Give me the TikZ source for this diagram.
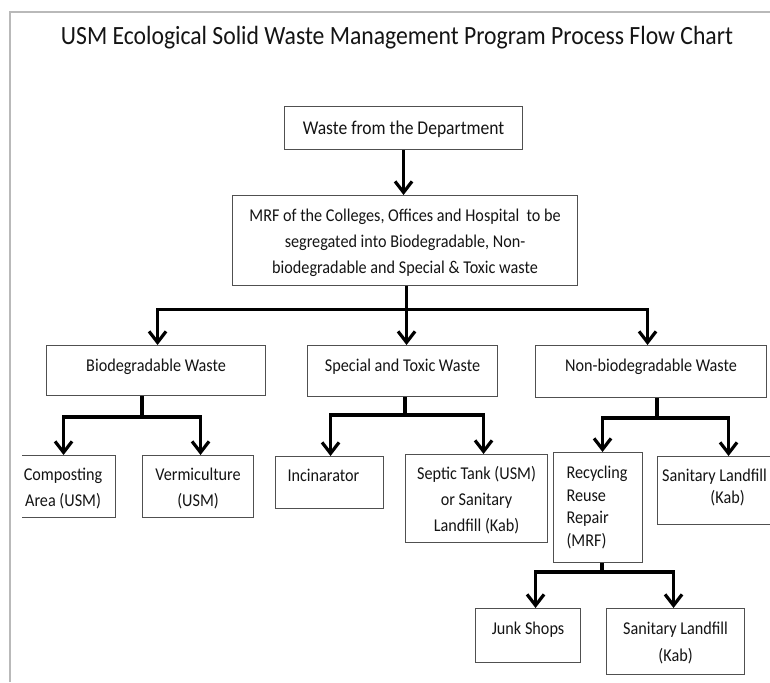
\documentclass[tikz,border=0pt]{standalone}
\usepackage{fontspec}
\setmainfont[FakeStretch=0.9]{Carlito}
\usetikzlibrary{arrows.meta,calc}
\definecolor{txt}{HTML}{141414}
\definecolor{edge}{HTML}{505050}
\newcommand\cbox[2]{\parbox[t]{#1}{\centering #2}}
\newcommand\lbox[3]{\parbox[t]{#1}{\raggedright\leftskip=#2 #3}}
\begin{document}
\begin{tikzpicture}[x=1pt,y=-1pt,
  box/.style={draw=edge, line width=1.1pt, inner sep=0pt, anchor=north west,
    font=\fontsize{18}{26}\selectfont, text=txt},
  conn/.style={line width=3.2pt, draw=black},
  arr/.style={conn, -{Straight Barb[length=11pt,width=17pt]}},
  titlestyle/.style={font=\fontsize{26.3}{30}\selectfont, text=txt, anchor=base, inner sep=0pt}
]
\useasboundingbox (0,0) rectangle (770,682);
\fill[white] (0,0) rectangle (770,682);
\draw[gray!55, line width=1.5pt] (10,682) -- (10,12) -- (770,12);

\node[titlestyle] (title) at (397,45) {USM Ecological Solid Waste Management Program Process Flow Chart};

\node[box, minimum width=238, text height=28.3, text depth=14.7, font=\fontsize{19.5}{26}\selectfont] (top) at (284,106)
  {\cbox{238pt}{Waste from the Department}};
\node[box, minimum width=345, text height=25.6, text depth=64.4] (mrf) at (232,195)
  {\cbox{345pt}{MRF of the Colleges, Offices and Hospital\ \ to be\\segregated into Biodegradable, Non-\\biodegradable and Special \& Toxic waste}};

\node[box, minimum width=219, text height=25.8, text depth=24.2] (bio) at (46,345)
  {\cbox{219pt}{Biodegradable Waste}};
\node[box, minimum width=190, text height=25.8, text depth=25.2] (spec) at (307,345)
  {\cbox{190pt}{Special and Toxic Waste}};
\node[box, minimum width=231, text height=25.8, text depth=26.2] (non) at (535,345)
  {\cbox{231pt}{Non-biodegradable Waste}};

\begin{scope}
\clip (22,0) rectangle (770,682);
\node[box, minimum width=105, text height=24.8, text depth=37.2] (comp) at (10,455)
  {\cbox{105pt}{Composting\\Area (USM)}};
\end{scope}
\node[box, minimum width=111, text height=24.8, text depth=37.2] (verm) at (142,455)
  {\cbox{111pt}{Vermiculture\\(USM)}};
\node[box, minimum width=108, text height=24.8, text depth=27.2] (inc) at (275,456)
  {\lbox{108pt}{12pt}{Incinarator}};
\node[box, minimum width=142, text height=24.8, text depth=63.2] (sept) at (405,454)
  {\cbox{142pt}{Septic Tank (USM)\\or Sanitary\\Landfill (Kab)}};
\node[box, minimum width=89, text height=25.8, text depth=84.2] (rec) at (553,452)
  {\lbox{89pt}{13pt}{\baselineskip=22.7pt Recycling\\Reuse\\Repair\\(MRF)}};
\node[box, minimum width=140, text height=24.8, text depth=43.2] (sanR) at (657,456)
  {\cbox{140pt}{\baselineskip=22.5pt \leavevmode\kern-26pt Sanitary Landfill\\(Kab)}};
\node[box, minimum width=105, text height=25.8, text depth=28.2] (junk) at (475,608)
  {\cbox{105pt}{Junk Shops}};
\node[box, minimum width=138, text height=25.8, text depth=40.2] (sanB) at (606,608)
  {\cbox{138pt}{\baselineskip=27pt Sanitary Landfill\\(Kab)}};

% connectors
\draw[arr] (top.south) -- (top.south |- mrf.north);

\coordinate (b0) at ($(mrf.south)+(1.5,23)$);
\draw[conn] (mrf.south -| b0) -- (b0);
\draw[arr] (b0) -| ([xshift=1.5pt]bio.north);
\draw[arr] (b0) -| ([xshift=-3.5pt]non.north);
\draw[arr] (b0) -- (b0 |- spec.north);

\coordinate (b1) at (142,417);
\draw[conn] (b1 |- bio.south) -- (b1);
\draw[arr] (b1) -| ([xshift=0.5pt]comp.north);
\draw[arr] (b1) -| ([xshift=2.5pt]verm.north);

\coordinate (b2) at (405,415);
\draw[conn] (b2 |- spec.south) -- (b2);
\draw[arr] (b2) -| ([xshift=1pt]inc.north);
\draw[arr] (b2) -| ([xshift=7pt]sept.north);

\coordinate (b3) at (657,418);
\draw[conn] (b3 |- non.south) -- (b3);
\draw[arr] (b3) -| ([xshift=4.5pt]rec.north);
\draw[arr] (b3) -| ([xshift=1pt]sanR.north);

\coordinate (b4) at (602,572);
\draw[conn] (b4 |- rec.south) -- (b4);
\draw[arr] (b4) -| ([xshift=7.5pt]junk.north);
\draw[arr] (b4) -| ([xshift=-2pt]sanB.north);
\end{tikzpicture}
\end{document}
